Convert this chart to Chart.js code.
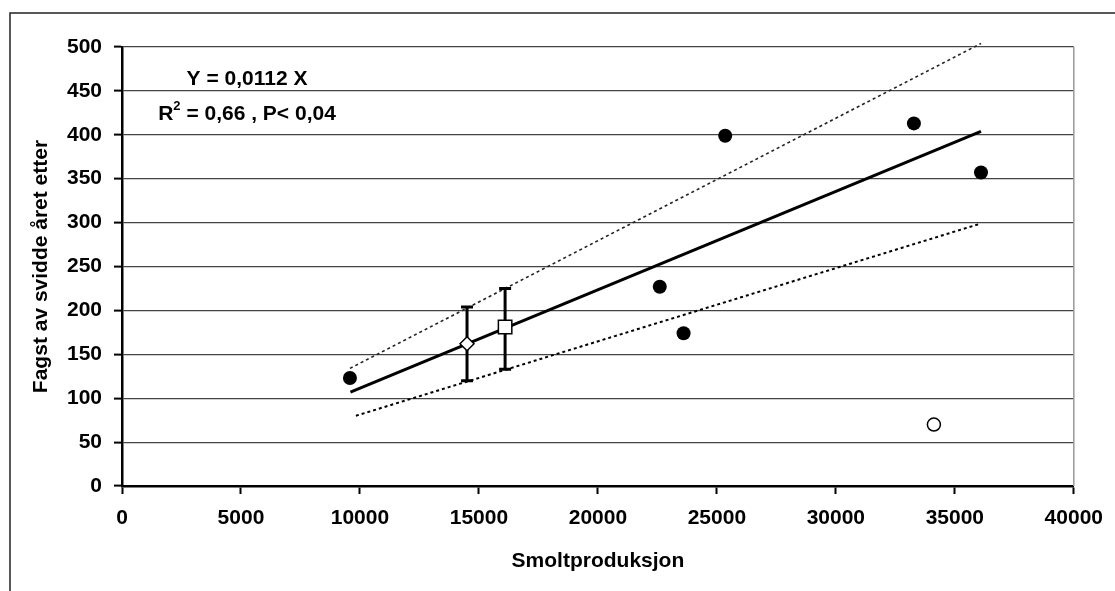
<!DOCTYPE html>
<html>
<head>
<meta charset="utf-8">
<script src="https://cdn.jsdelivr.net/npm/chart.js@4"></script>
<style>
  body { margin: 0; background: #fff; }
  #wrap { width: 1115px; height: 591px; }
</style>
</head>
<body>
<div id="wrap"><canvas id="smoltChart" width="1115" height="591"></canvas></div>
<script>
// observed years (filled dots)
const smoltX = [9580, 22600, 23600, 25350, 33280, 36100];
const fangstY = [123, 227, 174, 399, 413, 357];

// outlier (open circle)
const outlierX = [34120];
const outlierY = [70];

// means with error bars (diamond, square)
const meanX = [14500, 16100];
const meanY = [162, 181];
const errLow = [120, 133];
const errHigh = [204, 225];

// regression line Y = 0,0112 X and its confidence band
const regX = [9600, 36100];
const regY = [107, 404];
const upperX = [9580, 36100];
const upperY = [134, 504];
const lowerX = [9830, 36100];
const lowerY = [80, 299];

const xTicks = [0, 5000, 10000, 15000, 20000, 25000, 30000, 35000, 40000];
const yTicks = [0, 50, 100, 150, 200, 250, 300, 350, 400, 450, 500];

const FONT = "'Liberation Sans', Arial, sans-serif";

function pts(xs, ys) {
    return xs.map((x, i) => ({ x: x, y: ys[i] }));
}

function errBar(i) {
    return {
        type: 'line',
        data: [{ x: meanX[i], y: errLow[i] }, { x: meanX[i], y: errHigh[i] }],
        borderColor: '#000',
        borderWidth: 3,
        pointStyle: 'line',
        pointRadius: 6,
        pointBorderWidth: 3,
        pointBorderColor: '#000',
        order: 5
    };
}

// frame, right plot border and the regression text
const extras = {
    id: 'extras',
    beforeDraw(chart) {
        const ctx = chart.ctx;
        ctx.save();
        ctx.fillStyle = '#fff';
        ctx.fillRect(0, 0, chart.width, chart.height);
        ctx.strokeStyle = '#222';
        ctx.lineWidth = 1.5;
        ctx.beginPath();
        ctx.moveTo(10, chart.height);
        ctx.lineTo(10, 13);
        ctx.lineTo(chart.width, 13);
        ctx.stroke();
        ctx.restore();
    },
    beforeDatasetsDraw(chart) {
        const { ctx, chartArea } = chart;
        ctx.save();
        ctx.strokeStyle = '#999';
        ctx.lineWidth = 1.5;
        ctx.beginPath();
        ctx.moveTo(chartArea.right, chartArea.top);
        ctx.lineTo(chartArea.right, chartArea.bottom);
        ctx.stroke();
        ctx.restore();
    },
    afterDraw(chart) {
        const { ctx, chartArea } = chart;
        const cx = chartArea.left + 125;
        ctx.save();
        ctx.fillStyle = '#000';
        ctx.textBaseline = 'alphabetic';
        ctx.font = 'bold 21px ' + FONT;
        ctx.textAlign = 'center';
        ctx.fillText('Y = 0,0112 X', cx, 85);

        const a = 'R', b = '2', c = ' = 0,66 , P< 0,04';
        ctx.textAlign = 'left';
        const wa = ctx.measureText(a).width;
        const wc = ctx.measureText(c).width;
        ctx.font = 'bold 13px ' + FONT;
        const wb = ctx.measureText(b).width;
        let x = cx - (wa + wb + wc) / 2;
        ctx.font = 'bold 21px ' + FONT;
        ctx.fillText(a, x, 120);
        ctx.font = 'bold 13px ' + FONT;
        ctx.fillText(b, x + wa, 110);
        ctx.font = 'bold 21px ' + FONT;
        ctx.fillText(c, x + wa + wb, 120);
        ctx.restore();
    }
};

new Chart(document.getElementById('smoltChart'), {
    type: 'scatter',
    data: {
        datasets: [
            {
                data: pts(smoltX, fangstY),
                backgroundColor: '#000',
                borderColor: '#000',
                pointRadius: 7,
                pointBorderWidth: 0,
                order: 0
            },
            {
                data: pts(outlierX, outlierY),
                backgroundColor: '#fff',
                borderColor: '#000',
                pointRadius: 6.5,
                pointBorderWidth: 1.5,
                order: 0
            },
            {
                data: pts([meanX[0]], [meanY[0]]),
                pointStyle: 'rectRot',
                backgroundColor: '#fff',
                borderColor: '#000',
                pointRadius: 7,
                pointBorderWidth: 1.5,
                order: 1
            },
            {
                data: pts([meanX[1]], [meanY[1]]),
                pointStyle: 'rect',
                backgroundColor: '#fff',
                borderColor: '#000',
                pointRadius: 9.5,
                pointBorderWidth: 1.5,
                order: 1
            },
            errBar(0),
            errBar(1),
            {
                type: 'line',
                data: pts(regX, regY),
                borderColor: '#000',
                borderWidth: 3,
                pointRadius: 0,
                order: 6
            },
            {
                type: 'line',
                data: pts(upperX, upperY),
                borderColor: '#222',
                borderWidth: 1.6,
                borderDash: [3, 3],
                pointRadius: 0,
                clip: false,
                order: 7
            },
            {
                type: 'line',
                data: pts(lowerX, lowerY),
                borderColor: '#000',
                borderWidth: 2,
                borderDash: [3, 3],
                pointRadius: 0,
                order: 7
            }
        ]
    },
    options: {
        responsive: false,
        animation: false,
        devicePixelRatio: 1,
        layout: { padding: { left: 10, top: 47, right: 41, bottom: 0 } },
        plugins: {
            legend: { display: false },
            tooltip: { enabled: false }
        },
        scales: {
            x: {
                type: 'linear',
                min: 0,
                max: 40000,
                afterBuildTicks: axis => { axis.ticks = xTicks.map(v => ({ value: v })); },
                afterFit: axis => { axis.height = 105; },
                grid: {
                    drawOnChartArea: false,
                    drawTicks: true,
                    tickLength: 8,
                    tickColor: '#000',
                    tickWidth: 2
                },
                border: { display: true, color: '#000', width: 2.5 },
                ticks: {
                    color: '#000',
                    font: { family: FONT, size: 21, weight: 'bold' },
                    padding: 12,
                    maxRotation: 0,
                    autoSkip: false,
                    callback: v => String(v)
                },
                title: {
                    display: true,
                    text: 'Smoltproduksjon',
                    color: '#000',
                    font: { family: FONT, size: 21, weight: 'bold' },
                    padding: { top: 0, bottom: 17 }
                }
            },
            y: {
                type: 'linear',
                min: 0,
                max: 500,
                afterBuildTicks: axis => { axis.ticks = yTicks.map(v => ({ value: v })); },
                afterFit: axis => { axis.width = 112; },
                grid: {
                    color: '#444',
                    lineWidth: 1.2,
                    drawTicks: true,
                    tickLength: 8,
                    tickColor: '#000',
                    tickWidth: 2
                },
                border: { display: true, color: '#000', width: 2.5 },
                ticks: {
                    color: '#000',
                    font: { family: FONT, size: 21, weight: 'bold' },
                    padding: 12
                },
                title: {
                    display: true,
                    text: 'Fagst av svidde året etter',
                    color: '#000',
                    font: { family: FONT, size: 21, weight: 'bold' },
                    padding: { top: 19, bottom: 0 }
                }
            }
        }
    },
    plugins: [extras]
});
</script>
</body>
</html>
